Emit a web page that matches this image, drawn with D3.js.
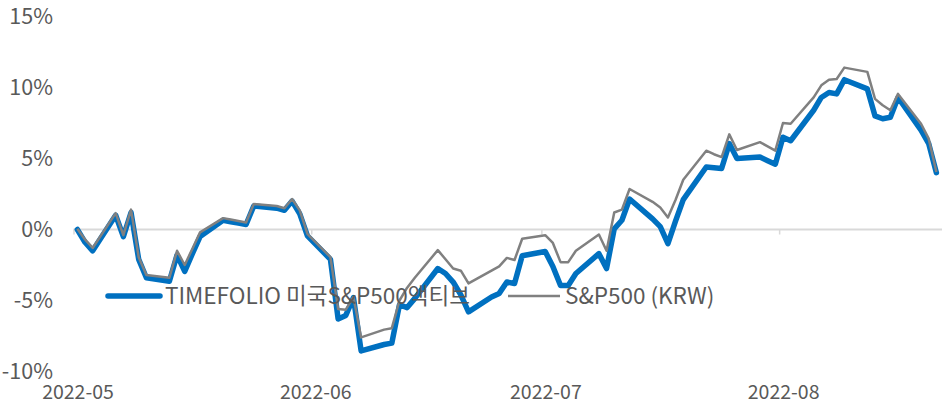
<!DOCTYPE html>
<html>
<head>
<meta charset="utf-8">
<script src="https://cdn.jsdelivr.net/npm/d3@7"></script>
<style>
  body { margin: 0; background: #fff; }
  svg text { font-family: 'Noto Sans CJK KR', sans-serif; }
</style>
</head>
<body>
<svg width="942" height="405"></svg>
<script>
const dates = [
  '2022-05-04', '2022-05-05', '2022-05-06', '2022-05-09', '2022-05-10', '2022-05-11', '2022-05-12', '2022-05-13',
  '2022-05-16', '2022-05-17', '2022-05-18', '2022-05-19', '2022-05-20', '2022-05-23', '2022-05-24', '2022-05-25',
  '2022-05-26', '2022-05-27', '2022-05-30', '2022-05-31', '2022-06-01', '2022-06-02', '2022-06-03', '2022-06-06',
  '2022-06-07', '2022-06-08', '2022-06-09', '2022-06-10', '2022-06-13', '2022-06-14', '2022-06-15', '2022-06-16',
  '2022-06-17', '2022-06-20', '2022-06-21', '2022-06-22', '2022-06-23', '2022-06-24', '2022-06-27', '2022-06-28',
  '2022-06-29', '2022-06-30', '2022-07-01', '2022-07-04', '2022-07-05', '2022-07-06', '2022-07-07', '2022-07-08',
  '2022-07-11', '2022-07-12', '2022-07-13', '2022-07-14', '2022-07-15', '2022-07-18', '2022-07-19', '2022-07-20',
  '2022-07-21', '2022-07-22', '2022-07-25', '2022-07-26', '2022-07-27', '2022-07-28', '2022-07-29', '2022-08-01',
  '2022-08-02', '2022-08-03', '2022-08-04', '2022-08-05', '2022-08-08', '2022-08-09', '2022-08-10', '2022-08-11',
  '2022-08-12', '2022-08-15', '2022-08-16', '2022-08-17', '2022-08-18', '2022-08-19', '2022-08-22', '2022-08-23',
  '2022-08-24'
];

// TIMEFOLIO 미국S&P500액티브 (%)
const fundValues = [
  0, -0.9, -1.5, 1.0, -0.5, 1.2, -2.1, -3.4,
  -3.65, -1.8, -2.95, -1.7, -0.5, 0.65, 0.55, 0.45,
  0.35, 1.65, 1.5, 1.35, 2.0, 1.1, -0.45, -2.1,
  -6.3, -6.05, -4.8, -8.55, -8.1, -8.0, -5.3, -5.5,
  -4.85, -2.75, -3.1, -3.7, -4.6, -5.8, -4.75, -4.5,
  -3.7, -3.8, -1.85, -1.55, -2.6, -3.95, -3.95, -3.1,
  -1.7, -2.75, 0.05, 0.65, 2.15, 0.75, 0.2, -1.0,
  0.6, 2.1, 4.4, 4.35, 4.3, 6.05, 5.0, 5.1,
  4.85, 4.6, 6.5, 6.25, 8.4, 9.3, 9.65, 9.55,
  10.55, 9.9, 8.0, 7.8, 7.9, 9.3, 7.0, 6.05,
  4.0
];

// S&P500 (KRW) (%)
const spxValues = [
  0.05, -0.7, -1.3, 1.15, -0.4, 1.4, -1.95, -3.2,
  -3.4, -1.5, -2.5, -1.35, -0.2, 0.8, 0.7, 0.6,
  0.5, 1.8, 1.65, 1.5, 2.15, 1.35, -0.3, -1.95,
  -5.6, -5.65, -4.75, -7.6, -7.05, -6.95, -5.0, -4.1,
  -3.4, -1.45, -2.1, -2.75, -2.9, -3.8, -2.9, -2.6,
  -2.0, -2.15, -0.65, -0.4, -0.95, -2.3, -2.3, -1.5,
  -0.35, -1.5, 1.2, 1.4, 2.85, 1.95, 1.55, 0.85,
  2.1, 3.5, 5.55, 5.3, 5.1, 6.7, 5.6, 6.15,
  5.85, 5.55, 7.5, 7.45, 9.3, 10.15, 10.55, 10.6,
  11.4, 11.1, 9.2, 8.75, 8.4, 9.55, 7.45, 6.4,
  4.05
];

const seriesNames = ['TIMEFOLIO 미국S&P500액티브', 'S&P500 (KRW)'];
const yTicks = [-10, -5, 0, 5, 10, 15];
const xTickDates = ['2022-05-04', '2022-06-04', '2022-07-04', '2022-08-04'];
const xTickLabels = ['2022-05', '2022-06', '2022-07', '2022-08'];

const width = 942;
const plotLeft = 73.5;
const plotTop = 16.5;
const plotBottom = 371.5;
const textColor = '#595959';

const parse = d3.utcParse('%Y-%m-%d');
const halfDay = 12 * 3600 * 1000;

const svg = d3.select('svg');

const xScale = d3.scaleUtc()
  .domain([parse('2022-05-04'), parse('2022-08-25')])
  .range([plotLeft, plotLeft + 113 * 7.67]);

const yScale = d3.scaleLinear()
  .domain([d3.min(yTicks), d3.max(yTicks)])
  .range([plotBottom, plotTop]);

const styleText = (size) => (sel) => sel
  .attr('font-family', null)
  .attr('font-size', null)
  .style('font-size', size + 'px')
  .attr('fill', textColor);

// y labels
svg.append('g')
  .attr('transform', 'translate(53, 0)')
  .call(d3.axisLeft(yScale).tickValues(yTicks).tickSize(0).tickPadding(0)
    .tickFormat((d) => d + '%'))
  .call((g) => g.attr('font-family', null).attr('font-size', null))
  .call((g) => g.select('.domain').remove())
  .selectAll('text')
  .call(styleText(21.5));

// zero line with month ticks
svg.append('line')
  .attr('x1', plotLeft)
  .attr('x2', width)
  .attr('y1', yScale(0))
  .attr('y2', yScale(0))
  .attr('stroke', '#d9d9d9')
  .attr('stroke-width', 2);

svg.append('g')
  .attr('transform', `translate(0, ${yScale(0)})`)
  .call(d3.axisBottom(xScale).tickValues(xTickDates.map(parse)).tickSize(5).tickFormat(''))
  .call((g) => g.select('.domain').remove())
  .selectAll('line')
  .attr('stroke', '#d9d9d9')
  .attr('stroke-width', 1.5);

// x labels at the bottom
svg.append('g')
  .attr('transform', 'translate(4, 385)')
  .call(d3.axisBottom(xScale).tickValues(xTickDates.map(parse)).tickSize(0).tickPadding(0)
    .tickFormat((d, i) => xTickLabels[i]))
  .call((g) => g.attr('font-family', null).attr('font-size', null))
  .call((g) => g.select('.domain').remove())
  .selectAll('text')
  .call(styleText(19.5));

const line = (values) => d3.line()
  .x((d, i) => xScale(new Date(parse(dates[i]).getTime() + halfDay)))
  .y((d) => yScale(d))(values);

svg.append('path')
  .attr('d', line(fundValues))
  .attr('fill', 'none')
  .attr('stroke', '#0070c0')
  .attr('stroke-width', 5.5)
  .attr('stroke-linejoin', 'round')
  .attr('stroke-linecap', 'round');

svg.append('path')
  .attr('d', line(spxValues))
  .attr('fill', 'none')
  .attr('stroke', '#808080')
  .attr('stroke-width', 2.5)
  .attr('stroke-linejoin', 'round');

// legend
const legend = svg.append('g').attr('transform', 'translate(0, 296)');
const legendItems = [
  { x: 108, color: '#0070c0', w: 5.5 },
  { x: 508, color: '#808080', w: 2.5 }
];
legendItems.forEach((item, i) => {
  legend.append('line')
    .attr('x1', item.x)
    .attr('x2', item.x + 52)
    .attr('stroke', item.color)
    .attr('stroke-width', item.w)
    .attr('stroke-linecap', i === 0 ? 'round' : 'butt');
  legend.append('text')
    .attr('x', item.x + 57)
    .attr('dy', '0.35em')
    .call(styleText(22.5))
    .text(seriesNames[i]);
});
</script>
</body>
</html>
